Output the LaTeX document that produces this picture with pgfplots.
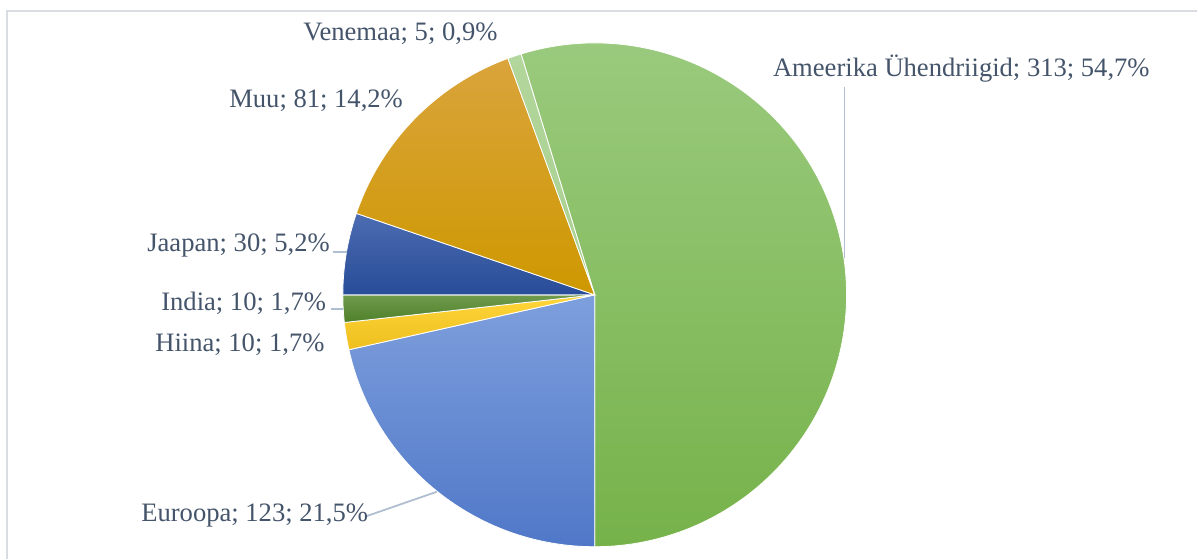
\documentclass[border=0pt]{standalone}
\usepackage{fontspec}
\setmainfont{Liberation Serif}
\usepackage{pgfplots}
\usepackage{pgfplotstable}
\pgfplotsset{compat=1.18}

% slice colours (top / bottom of the gradient)
\definecolor{top0}{RGB}{156,203,128}\definecolor{bot0}{RGB}{118,178,74}
\definecolor{top1}{RGB}{126,159,221}\definecolor{bot1}{RGB}{80,120,200}
\definecolor{top2}{RGB}{255,214,58}\definecolor{bot2}{RGB}{238,190,30}
\definecolor{top3}{RGB}{112,155,78}\definecolor{bot3}{RGB}{78,128,40}
\definecolor{top4}{RGB}{76,108,178}\definecolor{bot4}{RGB}{40,76,152}
\definecolor{top5}{RGB}{218,164,60}\definecolor{bot5}{RGB}{206,152,0}
\definecolor{top6}{RGB}{178,214,155}\definecolor{bot6}{RGB}{170,208,145}
\definecolor{labc}{RGB}{68,84,106}
\definecolor{leadc}{RGB}{176,190,210}
\definecolor{framec}{RGB}{217,221,227}

\pgfplotstableread{
name value
{Ameerika Ühendriigid} 313
Euroopa 123
Hiina 10
India 10
Jaapan 30
Muu 81
Venemaa 5
}\piedata

\newcommand\labfont{\fontsize{13.3pt}{15pt}\selectfont}
\newcommand\lbl[3]{%
  \node[anchor=base west, inner sep=0pt, text=labc, font=\labfont] at (axis cs:#2,#3)
    {\csname lab#1\endcsname\pgfmathprintnumber[fixed, fixed zerofill, precision=1, use comma, assume math mode=true]{\csname pct#1\endcsname}\%};}

\begin{document}
\begin{tikzpicture}
% total and slice angles (clockwise, first slice ends at the bottom)
\xdef\total{0}
\foreach \i in {0,...,6}{
  \pgfplotstablegetelem{\i}{value}\of\piedata
  \pgfmathsetmacro\t{\total+\pgfplotsretval}
  \xdef\total{\t}
}
\pgfplotstablegetelem{0}{value}\of\piedata
\pgfmathsetmacro\a{-90+\pgfplotsretval/\total*360}
\xdef\cur{\a}
\foreach \i in {0,...,6}{
  \pgfplotstablegetelem{\i}{value}\of\piedata
  \let\v\pgfplotsretval
  \pgfmathsetmacro\b{\cur-\v/\total*360}
  \pgfmathsetmacro\p{\v/\total*100}
  \expandafter\xdef\csname sa\i\endcsname{\cur}
  \expandafter\xdef\csname ea\i\endcsname{\b}
  \expandafter\xdef\csname pct\i\endcsname{\p}
  \pgfplotstablegetelem{\i}{name}\of\piedata
  \expandafter\xdef\csname lab\i\endcsname{\pgfplotsretval; \v; }
  \xdef\cur{\b}
}
\begin{axis}[
    x=0.5pt, y=0.5pt,
    xmin=0, xmax=1198, ymin=0, ymax=559,
    y dir=reverse,
    hide axis,
    clip=false,
  ]
  \path (axis cs:0,0) rectangle (axis cs:1198,559);
  % chart frame
  \draw[framec, line width=0.6pt] (axis cs:7,559) -- (axis cs:7,11) -- (axis cs:1198,11);

  \pgfplotsinvokeforeach{0,...,6}{
    \shadedraw[top color=top#1, bottom color=bot#1, draw=white, line width=0.4pt]
      (axis cs:595,295) -- ++(\csname sa#1\endcsname:126pt)
      arc[start angle=\csname sa#1\endcsname, end angle=\csname ea#1\endcsname, radius=126pt]
      -- cycle;
  }

  % leader lines
  \draw[leadc, line width=0.9pt] (axis cs:845,87) -- (axis cs:845,258);
  \draw[leadc, line width=0.9pt] (axis cs:333,252) -- (axis cs:347,252);
  \draw[leadc, line width=0.9pt] (axis cs:331,309) -- (axis cs:343,309);
  \draw[leadc, line width=0.9pt] (axis cs:365,517) -- (axis cs:437,492);

  % data labels
  \lbl{0}{773}{77}
  \lbl{1}{141}{522}
  \lbl{2}{155}{352}
  \lbl{3}{161}{311}
  \lbl{4}{147}{252}
  \lbl{5}{229}{108}
  \lbl{6}{303}{41}
\end{axis}
\end{tikzpicture}
\end{document}
